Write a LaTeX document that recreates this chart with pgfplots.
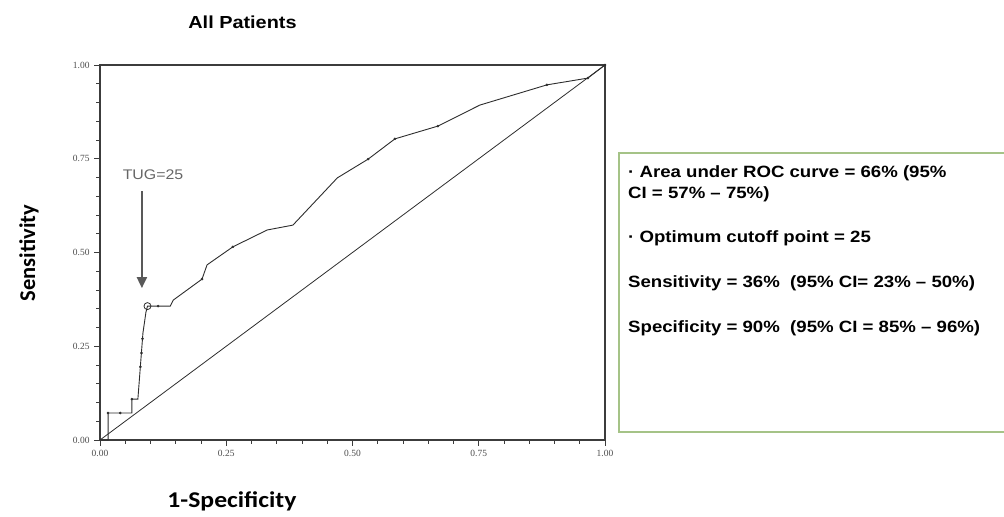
\documentclass[border=0pt]{standalone}
\usepackage{fontspec}
\setmainfont{Liberation Sans}
\newfontfamily\carlito{Carlito}
\newfontfamily\tickfont{Liberation Serif}
\usepackage{pgfplots}
\pgfplotsset{compat=1.18}
\usetikzlibrary{arrows.meta}
\definecolor{boxgreen}{RGB}{165,195,135}
\definecolor{axgray}{RGB}{60,60,60}
\definecolor{curvegray}{RGB}{45,45,45}
\newcommand{\sx}[1]{\scalebox{1.14}[1]{#1}}
\begin{document}
\begin{tikzpicture}[x=1bp,y=1bp]
\path[use as bounding box] (0,0) rectangle (1004,517);
\begin{axis}[
  at={(100bp,77bp)}, anchor=south west,
  scale only axis, width=505bp, height=375bp,
  xmin=0, xmax=1, ymin=0, ymax=1,
  xtick={0,0.25,0.5,0.75,1}, ytick={0,0.25,0.5,0.75,1},
  minor tick num=4,
  tick align=outside, tick pos=left,
  major tick length=6bp, minor tick length=4bp,
  axis line style={axgray, line width=1.5bp},
  tick style={axgray, line width=0.9bp},
  tick label style={font=\tickfont\fontsize{9.5}{10}\selectfont, text=black!70},
  xticklabel style={yshift=-1bp},
  yticklabel style={xshift=-1bp},
  clip=false,
  /pgf/number format/fixed, /pgf/number format/fixed zerofill,
  /pgf/number format/precision=2, /pgf/number format/assume math mode=true,
]
% diagonal reference line
\addplot[curvegray, line width=0.8bp] coordinates {(0,0) (1,1)};
% ROC curve
\addplot[curvegray, line width=0.9bp] coordinates {
(0,0) (0.016,0) (0.016,0.072) (0.063,0.072) (0.063,0.109) (0.075,0.109)
(0.085,0.285) (0.091,0.341) (0.094,0.357) (0.139,0.357) (0.145,0.373)
(0.202,0.429) (0.212,0.467) (0.263,0.515) (0.331,0.560) (0.382,0.573)
(0.470,0.699) (0.531,0.749) (0.584,0.803) (0.669,0.837) (0.752,0.893)
(0.885,0.947) (0.966,0.965) (1,1)};
% point markers on the curve
\addplot[only marks, mark=*, mark size=1.1bp, curvegray] coordinates {
(0.016,0.072) (0.040,0.072) (0.063,0.109) (0.080,0.195) (0.082,0.232)
(0.084,0.270) (0.115,0.357) (0.202,0.429) (0.263,0.515) (0.531,0.749)
(0.584,0.803) (0.669,0.837) (0.885,0.947) (0.966,0.965) (1,1)};
% optimum cutoff
\addplot[only marks, mark=o, mark size=3.5bp, curvegray, line width=0.8bp] coordinates {(0.094,0.357)};
\draw[axgray!85, line width=2.2bp, -{Triangle[length=11bp,width=10bp]}]
  (axis cs:0.083,0.663) -- (axis cs:0.083,0.405);
\node[text=black!60, font=\fontsize{14}{16}\selectfont] at (axis cs:0.105,0.707) {\sx{TUG=25}};
\end{axis}
% titles and labels
\node[anchor=base, font=\bfseries\fontsize{17.5}{20}\selectfont] at (242.5,488) {\sx{All Patients}};
\node[anchor=base, font=\carlito\bfseries\fontsize{22.6}{26}\selectfont] at (232,9) {\sx{1-Specificity}};
\node[rotate=90, font=\carlito\bfseries\fontsize{22.6}{26}\selectfont] at (29,264) {Sensitivity};
% info box
\draw[boxgreen, line width=1.5bp] (1010,364) -- (619,364) -- (619,85) -- (1010,85);
\begin{scope}[every node/.style={anchor=base west, inner sep=0pt, font=\bfseries\fontsize{16.4}{19}\selectfont}]
\node at (628,339) {\sx{· Area under ROC curve = 66\% (95\%}};
\node at (628,318) {\sx{CI = 57\% – 75\%)}};
\node at (628,274) {\sx{· Optimum cutoff point = 25}};
\node at (628,229) {\sx{Sensitivity = 36\%\ \ (95\% CI= 23\% – 50\%)}};
\node at (628,184) {\sx{Specificity = 90\%\ \ (95\% CI = 85\% – 96\%)}};
\end{scope}
\end{tikzpicture}
\end{document}
